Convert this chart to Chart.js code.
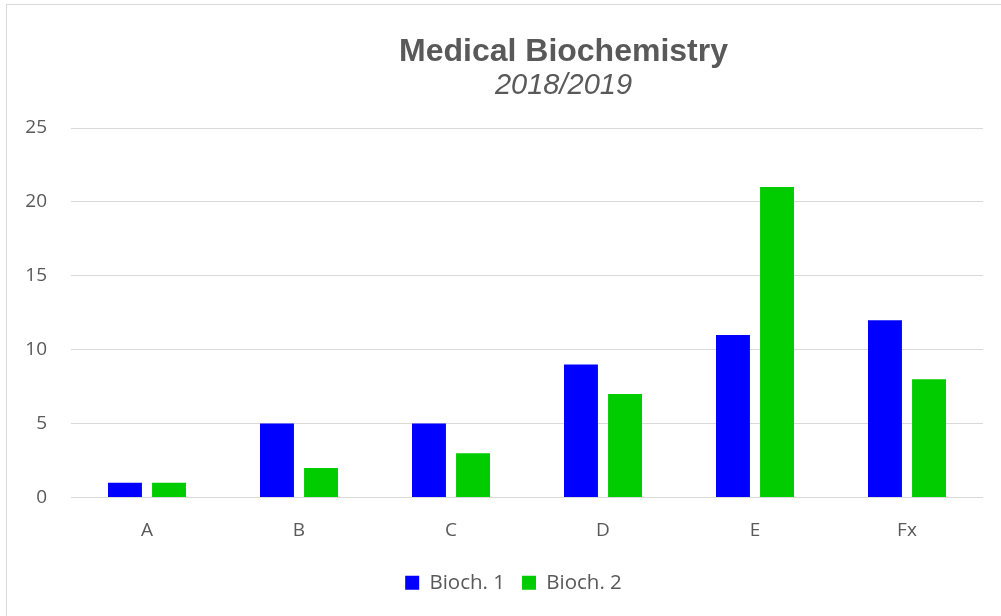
<!DOCTYPE html>
<html>
<head>
<meta charset="utf-8">
<script src="https://cdn.jsdelivr.net/npm/chart.js@4"></script>
<style>
  html, body { margin: 0; padding: 0; background: #fff; }
  #wrap { position: relative; width: 1001px; height: 616px; overflow: hidden; }
  #frame { position: absolute; left: 6px; top: 4px; width: 1010px; height: 630px; border: 1px solid #d9d9d9; box-sizing: border-box; }
  .ttl { position: absolute; left: 0; width: 1127px; text-align: center; color: #595959; font-family: "Liberation Sans", Arial, sans-serif; white-space: nowrap; line-height: 1; }
  #t1 { top: 34px; font-size: 32px; font-weight: bold; }
  #t2 { top: 70px; font-size: 29px; font-style: italic; }
  canvas { position: absolute; left: 0; top: 0; }
</style>
</head>
<body>
<div id="wrap">
  <div id="frame"></div>
  <canvas id="myChart" width="1001" height="616"></canvas>
  <div class="ttl" id="t1">Medical Biochemistry</div>
  <div class="ttl" id="t2">2018/2019</div>
</div>
<script>
const categories = ['A', 'B', 'C', 'D', 'E', 'Fx'];
const bioch1 = [1, 5, 5, 9, 11, 12];
const bioch2 = [1, 2, 3, 7, 21, 8];
const yTicks = [0, 5, 10, 15, 20, 25];

const labelFont = { family: '"Open Sans", sans-serif', size: 19 };

// legend sits a little right of the canvas centre in the original
const shiftLegend = {
  id: 'shiftLegend',
  afterLayout(chart) {
    chart.legend.left += 22;
    chart.legend.right += 22;
  }
};

const ctx = document.getElementById('myChart');
new Chart(ctx, {
  type: 'bar',
  data: {
    labels: categories,
    datasets: [{
      label: 'Bioch. 1',
      data: bioch1,
      backgroundColor: '#0000ff',
      categoryPercentage: 0.58,
      barPercentage: 0.77
    }, {
      label: 'Bioch. 2',
      data: bioch2,
      backgroundColor: '#00cc00',
      categoryPercentage: 0.58,
      barPercentage: 0.77
    }]
  },
  plugins: [shiftLegend],
  options: {
    responsive: false,
    animation: false,
    layout: {
      padding: { top: 128, left: 0, right: 18, bottom: 13 }
    },
    plugins: {
      legend: {
        position: 'bottom',
        labels: {
          boxWidth: 14,
          boxHeight: 14,
          padding: 17,
          color: '#595959',
          font: { family: '"Open Sans", sans-serif', size: 20.5 }
        }
      },
      tooltip: { enabled: false }
    },
    scales: {
      x: {
        grid: { display: false, drawTicks: false },
        border: { display: false },
        ticks: {
          padding: 22,
          color: '#595959',
          font: labelFont
        },
        afterFit: scale => { scale.height = 58; }
      },
      y: {
        min: 0,
        max: 25,
        afterBuildTicks: scale => { scale.ticks = yTicks.map(v => ({ value: v })); },
        grid: { color: '#d9d9d9', lineWidth: 1, drawTicks: false },
        border: { display: false },
        ticks: {
          padding: 24,
          color: '#595959',
          font: labelFont
        },
        afterFit: scale => { scale.width = 71; }
      }
    }
  }
});
</script>
</body>
</html>
